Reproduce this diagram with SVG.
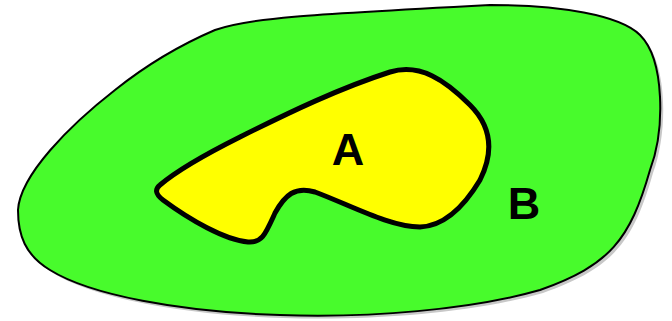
<svg xmlns="http://www.w3.org/2000/svg" width="672" height="321" viewBox="0 0 672 321">
<style>
.lbl{font-family:"Liberation Sans",Arial,sans-serif;font-weight:bold;font-size:45px;fill:#000;text-anchor:middle}
</style>
<defs>
<path id="outerShape" d="M 18 210 C 20 175, 70 125, 115 90 C 145 66, 180 45, 215 30 C 250 18, 300 15, 490 5 C 560 5, 620 15, 640 35 C 665 60, 665 130, 650 170 C 630 240, 610 265, 540 290 C 470 310, 370 318, 280 315 C 180 312, 90 295, 50 270 C 25 255, 18 235, 18 210 Z"/>
</defs>
<g id="B">
<use href="#outerShape" transform="translate(3,3)" fill="#c8c8c8"/>
<use href="#outerShape" fill="#48fb2c" stroke="#000" stroke-width="2"/>
<text class="lbl" x="524" y="219">B</text>
</g>
<g id="A">
<path d="M 160 185 C 180 168, 210 152, 240 137 C 290 112, 340 88, 390 72 C 420 63, 445 80, 470 105 C 490 125, 495 150, 480 180 C 465 205, 445 226, 420 227 C 390 227, 350 205, 315 192 C 295 186, 285 195, 275 213 C 265 235, 262 243, 248 242 C 225 240, 190 220, 163 200 C 155 194, 155 189, 160 185 Z" fill="#ffff00" stroke="#000" stroke-width="5"/>
<text class="lbl" x="348" y="165">A</text>
</g>
<g id="connectors"/>
</svg>
